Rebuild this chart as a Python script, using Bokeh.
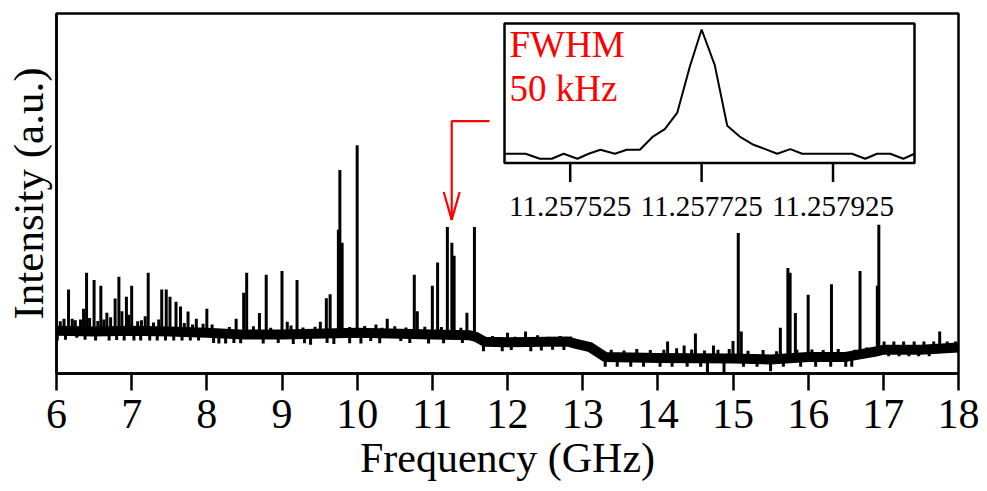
import numpy as np
from bokeh.plotting import figure
from bokeh.models import Range1d, FixedTicker
from bokeh.embed import file_html
from bokeh.resources import INLINE
from bokeh.core.properties import value

# ---------------- data ----------------
# centre of the noisy baseline band (GHz, a.u.)
base_f = [6.0, 6.5, 7.0, 7.5, 8.0, 8.5, 9.0, 10.0, 11.0, 11.5, 11.58, 11.7, 12.0,
          12.8, 12.9, 13.1, 13.3, 14.0, 15.0, 15.5, 16.0, 16.5, 16.9, 17.0, 17.5, 18.0]
base_i = [11.9, 11.7, 11.9, 11.7, 11.3, 10.8, 10.8, 11.3, 10.8, 10.6, 10.2, 8.8, 8.7,
          8.9, 8.3, 7.3, 4.6, 4.3, 4.2, 3.9, 4.6, 4.6, 6.1, 6.6, 6.6, 7.2]

# small noise excursions of the baseline (GHz, a.u.)
noise_f = [6.05, 6.10, 6.21, 6.25, 6.32, 6.44, 6.55, 6.63, 6.72, 6.87, 6.96, 7.08,
           7.13, 7.18, 7.29, 7.36, 7.70, 7.81, 7.95,
           6.01, 6.12, 6.27, 6.38, 6.52, 6.70, 6.80, 6.90, 7.03, 7.12, 7.24, 7.34,
           7.45, 7.56, 7.67, 7.78, 7.89, 8.09, 8.16, 8.25, 8.36,
           8.30, 8.62, 8.85, 9.12, 9.28, 9.44, 9.90, 10.10, 10.33, 10.50, 10.65,
           10.90, 11.12, 11.38,
           8.45, 8.75, 8.95, 9.15, 9.30, 9.38, 9.60, 9.69, 9.90, 10.05, 10.18,
           10.30, 10.58, 10.70, 10.95, 11.15, 11.40,
           11.80, 12.00, 12.10, 12.24, 12.40, 12.55, 12.70, 12.84,
           11.68, 11.93, 12.05, 12.31, 12.45, 12.60, 12.75,
           13.38, 13.55, 13.72, 13.90, 14.08, 14.25, 14.45, 14.62, 14.80, 14.95,
           15.20, 15.40, 15.58, 15.85, 16.05, 16.20, 16.40, 16.62, 16.78,
           14.66, 14.88, 15.50, 13.30, 13.46, 13.64, 13.81, 14.03, 14.19, 14.39,
           14.57, 15.14, 15.32, 15.67, 15.90, 16.10, 16.30, 16.50, 16.58,
           17.01, 17.14, 17.27, 17.41, 17.54, 17.67, 17.85, 17.96,
           17.07, 17.21, 17.34, 17.47, 17.61]
noise_i = [14.5, 15.2, 15.2, 14.8, 15.0, 15.4, 14.6, 15.0, 15.6, 17.3, 16.3, 14.5,
           14.8, 15.9, 14.2, 15.0, 14.0, 13.6, 13.8,
           9.2, 9.4, 9.9, 9.4, 9.2, 9.2, 9.3, 9.2, 9.2, 9.2, 9.2, 9.2,
           9.2, 9.2, 9.2, 9.2, 9.2, 8.5, 8.3, 8.3, 8.5,
           12.9, 13.1, 12.7, 13.3, 12.8, 13.0, 12.9, 13.2, 12.7, 13.1, 12.8,
           13.0, 12.9, 12.7,
           8.4, 8.3, 8.5, 8.2, 8.4, 8.0, 8.5, 8.2, 8.4, 8.3, 9.0,
           8.4, 9.0, 8.5, 8.3, 8.4, 8.5,
           10.4, 11.3, 10.2, 11.7, 10.6, 10.2, 10.4, 10.3,
           6.2, 6.2, 6.5, 6.2, 6.4, 6.6, 6.5,
           6.6, 6.4, 6.8, 6.5, 6.6, 7.0, 6.7, 6.4, 6.6, 6.8,
           6.3, 6.5, 6.2, 6.6, 6.7, 6.5, 6.8, 6.6, 7.2,
           0.0, 0.2, 0.6, 1.9, 1.9, 1.9, 1.9, 1.9, 1.9, 1.9,
           1.9, 1.9, 1.9, 1.9, 1.9, 1.9, 1.9, 1.9, 1.9,
           8.9, 8.9, 8.9, 8.9, 8.9, 8.9, 8.9, 8.9,
           4.8, 4.8, 4.8, 4.8, 4.8]

# spectral lines (GHz, a.u.)
peak_f = [6.16, 6.36, 6.40, 6.50, 6.59, 6.67, 6.78, 6.83, 6.93, 7.00, 7.22, 7.40,
          7.46, 7.51, 7.59, 7.65, 7.75, 7.86, 8.00, 8.07, 8.39, 8.49, 8.53, 8.70,
          8.79, 9.00, 9.07, 9.20, 9.51, 9.59, 9.64, 9.75, 9.77, 9.80, 10.00, 10.25,
          10.40, 10.76, 10.80, 11.00, 11.07, 11.20, 11.26, 11.29, 11.46, 11.56,
          14.13, 14.35, 14.50, 14.74, 15.00, 15.07, 15.11, 15.63, 15.73, 15.76,
          15.83, 16.00, 16.31, 16.69, 16.92, 16.94, 17.75]
peak_i = [23.3, 18.0, 28.0, 26.0, 24.4, 16.9, 20.8, 26.9, 21.3, 24.4, 28.0, 23.3,
          23.3, 21.3, 19.9, 18.6, 17.2, 15.2, 18.0, 13.6, 15.2, 22.4, 28.0, 16.8,
          27.4, 28.5, 14.4, 26.0, 14.4, 20.9, 22.0, 39.9, 56.5, 36.3, 63.4, 13.6,
          15.2, 27.4, 17.3, 24.4, 30.8, 40.7, 36.3, 32.7, 16.9, 40.7,
          8.9, 7.8, 11.1, 7.8, 9.0, 39.0, 11.7, 12.7, 29.3, 28.0,
          16.8, 21.9, 24.8, 28.5, 24.4, 41.3, 11.7]

# inset: high-resolution scan of the line at 11.257725 GHz
inset_center = 11.257725
inset_khz = [-300, -268, -246, -228, -210, -189, -172, -154, -132, -114, -94, -74,
             -56, -37, -18, 0, 20, 39, 58, 79, 96, 115, 135, 153, 171, 191, 211,
             229, 249, 267, 287, 307, 324]
inset_i = [0.067, 0.067, 0.031, 0.031, 0.067, 0.031, 0.067, 0.095, 0.067, 0.095,
           0.095, 0.19, 0.243, 0.362, 0.69, 0.957, 0.702, 0.267, 0.19, 0.131,
           0.102, 0.067, 0.1, 0.067, 0.067, 0.067, 0.067, 0.067, 0.031, 0.067,
           0.067, 0.031, 0.067]
inset_ticks = [11.257525, 11.257725, 11.257925]
inset_tick_labels = ["11.257525", "11.257725", "11.257925"]
main_ticks = list(range(6, 19))
annot_lines = ["FWHM", "50 kHz"]

# ---------------- layout constants (pixels) ----------------
W, H = 979, 483
BL, BR, BT, BB = 56, 21, 13, 109
FW, FH = W - BL - BR, H - BT - BB          # frame 902 x 361
IB_L, IB_R = 448, 858                      # inset box, px from frame left
IB_T, IB_B = FH - 10, FH - 150             # inset box, px from frame bottom
FONT = "Liberation Serif"

X0, X1, Y0, Y1 = 6, 18, 0, 100
p = figure(width=W, height=H, output_backend="svg", toolbar_location=None,
           x_range=Range1d(X0, X1), y_range=Range1d(Y0, Y1),
           min_border_left=BL, min_border_right=BR, min_border_top=BT,
           min_border_bottom=BB)
p.grid.visible = False
p.outline_line_color = "black"
p.outline_line_width = 2.5
p.background_fill_color = "white"

xa = p.xaxis[0]
xa.ticker = FixedTicker(ticks=main_ticks)
xa.minor_tick_line_color = None
xa.major_tick_in = 0
xa.major_tick_out = 17
xa.major_tick_line_width = 2.5
xa.axis_line_width = 2.5
xa.major_label_text_font = FONT
xa.major_label_text_font_size = "42px"
xa.major_label_text_color = "black"
xa.major_label_standoff = 9
xa.axis_label = "Frequency (GHz)"
xa.axis_label_text_font = FONT
xa.axis_label_text_font_size = "42px"
xa.axis_label_text_font_style = "normal"
xa.axis_label_text_color = "black"
xa.axis_label_standoff = 4

ya = p.yaxis[0]
ya.ticker = FixedTicker(ticks=[])
ya.major_tick_line_color = None
ya.minor_tick_line_color = None
ya.major_label_text_font_size = "0px"
ya.axis_line_width = 2.5
ya.axis_label = "Intensity (a.u.)"
ya.axis_label_text_font = FONT
ya.axis_label_text_font_size = "43px"
ya.axis_label_text_font_style = "normal"
ya.axis_label_text_color = "black"
ya.axis_label_standoff = 5

# ---------------- main spectrum ----------------
pf = np.array(peak_f)
p.segment(x0=pf, y0=np.interp(pf, base_f, base_i), x1=pf, y1=peak_i,
          line_color="black", line_width=3)
nf = np.array(noise_f)
p.segment(x0=nf, y0=np.interp(nf, base_f, base_i), x1=nf, y1=noise_i,
          line_color="black", line_width=3)
p.line(base_f, base_i, line_color="black", line_width=10, line_join="round")

# ---------------- red arrow to the inset line ----------------
gx = (X1 - X0) / FW
gy = (Y1 - Y0) / FH
ax_top = Y1 - 108 * gy
ax_tip = Y1 - 207 * gy
ax_end = X0 + (IB_L - 15) * gx
p.line([inset_center, inset_center, ax_end], [ax_tip, ax_top, ax_top],
       line_color="red", line_width=2.2)
hdx, hdy = 8 * gx, 28 * gy
p.line([inset_center - hdx, inset_center, inset_center + hdx],
       [ax_tip + hdy, ax_tip, ax_tip + hdy], line_color="red", line_width=2.2)

# ---------------- inset (own ranges mapped onto the frame) ----------------
ix = inset_center + np.array(inset_khz) * 1e-6
ix0, ix1 = ix.min(), ix.max()
kx = (ix1 - ix0) / (IB_R - IB_L)
ky = 1.0 / (IB_T - IB_B)
p.extra_x_ranges["ins"] = Range1d(ix0 - IB_L * kx, ix0 + (FW - IB_L) * kx)
p.extra_y_ranges["ins"] = Range1d(-IB_B * ky, (FH - IB_B) * ky)
R = dict(x_range_name="ins", y_range_name="ins")

p.quad(left=[ix0], right=[ix1], bottom=[0], top=[1], fill_color="white",
       line_color="black", line_width=2.5, **R)
p.line(ix, inset_i, line_color="black", line_width=2, **R)
tk = np.array(inset_ticks)
p.segment(x0=tk, y0=0, x1=tk, y1=-19 * ky, line_color="black", line_width=2.5, **R)
p.text(x=tk, y=-44 * ky, text=inset_tick_labels, text_align="center",
       text_baseline="alphabetic", text_font=value(FONT), text_font_size="29px",
       text_color="black", **R)
p.text(x=[ix0 + 5 * kx] * 2, y=[1 - 21 * ky, 1 - 65 * ky], text=annot_lines,
       text_align="left", text_baseline="alphabetic", text_font=value(FONT),
       text_font_size="37px", text_color="red", **R)

open("out.html", "w").write(file_html(p, INLINE))
